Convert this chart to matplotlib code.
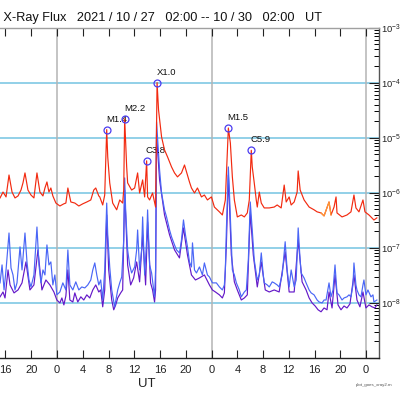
import matplotlib
matplotlib.use("Agg")
import matplotlib.pyplot as plt
import numpy as np
from matplotlib.ticker import FixedLocator, LogLocator, NullFormatter

plt.rcParams['font.family'] = ['Liberation Sans', 'DejaVu Sans']
plt.rcParams['mathtext.fontset'] = 'custom'
plt.rcParams['mathtext.rm'] = 'Liberation Sans'
plt.rcParams['mathtext.default'] = 'regular'

# ---- data: time in hours since 2021-10-27 00:00 UT, flux in W/m^2 ----
red_t = [15.16, 15.62, 16.09, 16.55, 17.02, 17.48, 17.95, 18.41, 18.72, 19.03, 19.49, 19.96, 20.42, 20.89,
         21.35, 21.82, 22.13, 22.44, 22.75, 23.05, 23.36, 23.83, 24.45, 25.07, 25.38, 25.69, 26.15, 26.77,
         27.39, 28.01, 28.63, 29.25, 29.71, 30.02, 30.49, 30.64, 31.10, 31.41, 31.72, 31.88, 32.19, 32.65,
         33.27, 33.74, 34.20, 34.36, 34.51, 34.82, 34.97, 35.59, 36.06, 36.52, 36.83, 37.30, 37.61, 37.92,
         38.07, 38.38, 38.84, 39.31, 39.54, 39.77, 40.24, 40.70, 41.17, 41.79, 42.25, 42.71, 43.33, 43.80,
         44.26, 44.57, 44.88, 45.35, 45.81, 46.43, 46.89, 47.36, 47.98, 48.44, 49.22, 49.68, 50.14, 50.61,
         50.92, 51.23, 51.54, 52.00, 52.62, 53.09, 53.55, 53.86, 54.17, 54.32, 54.63, 54.94, 55.10, 55.41,
         55.72, 56.18, 56.96, 57.73, 58.19, 58.81, 59.28, 59.59, 60.05, 60.36, 60.83, 61.29, 61.45, 61.76,
         62.37, 63.15, 63.92, 64.39, 65.00, 65.47, 66.24, 66.55, 67.02, 67.33, 67.48, 68.26, 69.03, 69.65,
         70.11, 70.42, 70.89, 71.51, 71.82, 72.44, 72.75, 73.21, 73.67]
red_f = [8.05e-7, 1.03e-6, 8.4e-7, 2.1e-6, 1.03e-6, 8.05e-7, 8.75e-7, 1.12e-6, 1.51e-6, 2.29e-6, 1.12e-6, 9.1e-7,
         8.05e-7, 2.29e-6, 1.03e-6, 8.75e-7, 1.22e-6, 1.57e-6, 1.03e-6, 1.22e-6, 8.75e-7, 6.5e-7, 5.75e-7,
         6.3e-7, 6.5e-7, 1.22e-6, 6.8e-7, 6.5e-7, 5.75e-7, 6.3e-7, 6.8e-7, 7.4e-7, 1.12e-6, 1.22e-6, 8.75e-7,
         8.4e-7, 6.0e-7, 9.1e-7, 1.4e-5, 4.47e-6, 1.51e-6, 6.5e-7, 4.9e-7, 7.4e-7, 6.5e-7, 1.12e-6, 2.2e-5,
         2.94e-6, 1.51e-6, 1.12e-6, 1.22e-6, 2.29e-6, 9.9e-7, 1.71e-6, 8.4e-7, 3.8e-6, 8.4e-7, 7.4e-7, 9.9e-7,
         5.5e-7, 1.0e-4, 3.18e-5, 1.03e-5, 5.98e-6, 4.47e-6, 2.94e-6, 2.29e-6, 1.94e-6, 2.29e-6, 3.19e-6,
         2.1e-6, 1.57e-6, 1.22e-6, 9.9e-7, 1.22e-6, 8.4e-7, 9.1e-7, 7.4e-7, 8.4e-7, 5.5e-7, 4.5e-7, 3.95e-7,
         7.4e-7, 1.5e-5, 8.0e-6, 1.94e-6, 7.4e-7, 3.64e-7, 3.95e-7, 3.64e-7, 4.3e-7, 7.4e-7, 5.9e-6, 2.94e-6,
         1.51e-6, 7.4e-7, 5.5e-7, 1.03e-6, 6.5e-7, 5.3e-7, 5.3e-7, 5.5e-7, 6.0e-7, 5.3e-7, 1.38e-6, 6.8e-7,
         8.4e-7, 6.0e-7, 6.8e-7, 1.03e-6, 2.49e-6, 1.12e-6, 7.4e-7, 5.5e-7, 4.9e-7, 4.5e-7, 4.3e-7, 3.8e-7,
         6.8e-7, 3.95e-7, 5.5e-7, 8.4e-7, 4.3e-7, 3.64e-7, 3.95e-7, 4.5e-7, 9.1e-7, 5.3e-7, 4.5e-7, 7.4e-7,
         4.5e-7, 3.95e-7, 3.64e-7, 3.2e-7, 3.5e-7]

blue_t = [15.16, 15.47, 15.78, 16.09, 16.55, 16.86, 17.17, 17.48, 17.79, 18.26, 18.57, 19.03, 19.34, 19.65,
          19.96, 20.42, 20.89, 21.20, 21.51, 21.82, 22.13, 22.44, 22.75, 23.05, 23.36, 23.67, 23.98, 24.45,
          24.91, 25.38, 25.69, 26.00, 26.46, 26.92, 27.39, 27.85, 28.32, 28.78, 29.25, 29.56, 29.87, 30.18,
          30.49, 30.79, 31.10, 31.41, 31.72, 31.88, 32.19, 32.50, 32.96, 33.43, 33.74, 34.05, 34.36, 34.51,
          34.66, 34.97, 35.28, 35.59, 36.06, 36.37, 36.52, 36.83, 37.14, 37.30, 37.61, 37.92, 38.07, 38.38,
          38.69, 39.15, 39.31, 39.46, 39.93, 40.24, 40.70, 41.01, 41.48, 41.79, 42.25, 42.56, 43.02, 43.33,
          43.64, 43.95, 44.26, 44.57, 44.88, 45.04, 45.35, 45.66, 46.12, 46.58, 46.89, 47.36, 47.67, 48.13,
          48.75, 49.22, 49.68, 49.99, 50.14, 50.30, 50.61, 50.76, 51.07, 51.23, 51.54, 51.85, 52.31, 52.62,
          53.09, 53.40, 53.71, 54.01, 54.32, 54.63, 55.10, 55.41, 55.72, 56.03, 56.18, 56.65, 56.96, 57.42,
          57.73, 58.19, 58.50, 58.97, 59.43, 59.74, 60.05, 60.36, 60.83, 61.14, 61.45, 61.75, 61.91, 62.37,
          62.68, 63.15, 63.46, 63.92, 64.39, 64.70, 65.16, 65.47, 65.78, 66.24, 66.40, 66.55, 66.86, 67.17,
          67.48, 67.79, 68.26, 68.57, 69.03, 69.34, 69.65, 69.96, 70.11, 70.42, 70.58, 70.89, 71.20, 71.51,
          71.66, 71.97, 72.28, 72.75, 73.06, 73.21, 73.67]
blue_f = [2.31e-8, 4.9e-8, 1.72e-8, 3.97e-8, 1.86e-7, 4.32e-8, 3.22e-8, 1.72e-8, 2.31e-8, 1.04e-7, 3.97e-8,
          1.86e-7, 5.55e-8, 2.61e-8, 1.95e-8, 3.22e-8, 2.39e-7, 4.9e-8, 2.31e-8, 3.97e-8, 3.22e-8, 1.13e-7,
          4.9e-8, 5.55e-8, 2.12e-8, 3.22e-8, 1.40e-8, 1.58e-8, 2.31e-8, 1.72e-8, 9.18e-8, 2.12e-8, 1.72e-8,
          2.41e-8, 1.72e-8, 1.95e-8, 1.87e-8, 2.12e-8, 2.61e-8, 3.97e-8, 5.32e-8, 3.22e-8, 2.12e-8, 2.61e-8,
          1.13e-8, 3.97e-8, 6.5e-7, 1.72e-7, 4.5e-8, 1.72e-8, 8.5e-9, 1.72e-8, 2.31e-8, 2.96e-8, 1.39e-7,
          1.86e-6, 4.88e-7, 9.18e-8, 4.9e-8, 3.5e-8, 4.5e-8, 9.18e-8, 2.11e-7, 3.97e-8, 9.18e-8, 3.64e-7,
          3.22e-8, 1.39e-7, 4.88e-7, 4.9e-8, 3.5e-8, 1.29e-8, 3.97e-8, 1.93e-5, 2.59e-6, 9.9e-7, 4.88e-7,
          3.64e-7, 2.11e-7, 1.58e-7, 1.13e-7, 9.18e-8, 8.09e-8, 1.39e-7, 3.21e-7, 1.72e-7, 1.04e-7, 5.55e-8,
          4.5e-8, 1.23e-7, 3.97e-8, 3.5e-8, 4.5e-8, 3.22e-8, 5.32e-8, 3.22e-8, 2.96e-8, 2.31e-8, 2.31e-8,
          1.95e-8, 1.72e-8, 2.12e-8, 3.97e-8, 2.11e-7, 2.94e-6, 1.12e-6, 1.23e-7, 3.97e-8, 3.22e-8, 2.31e-8,
          1.72e-8, 1.29e-8, 1.58e-8, 1.72e-8, 6.03e-8, 6.8e-7, 2.11e-7, 6.03e-8, 2.61e-8, 3.22e-8, 8.09e-8,
          3.22e-8, 2.31e-8, 2.12e-8, 1.95e-8, 2.41e-8, 2.31e-8, 2.12e-8, 1.95e-8, 3.22e-8, 1.29e-7, 3.97e-8,
          1.95e-8, 3.97e-8, 1.95e-8, 2.61e-8, 2.30e-7, 6.03e-8, 3.5e-8, 2.84e-8, 2.31e-8, 1.72e-8, 1.52e-8,
          1.40e-8, 1.13e-8, 1.04e-8, 1.0e-8, 1.13e-8, 1.13e-8, 2.31e-8, 1.72e-8, 1.29e-8, 1.72e-8, 4.9e-8,
          1.52e-8, 1.40e-8, 1.13e-8, 1.23e-8, 1.29e-8, 1.40e-8, 1.29e-8, 2.12e-8, 5.32e-8, 2.12e-8, 1.72e-8,
          1.40e-8, 1.29e-8, 2.12e-8, 2.61e-8, 1.40e-8, 1.72e-8, 1.29e-8, 1.40e-8, 1.04e-8, 1.13e-8]

purple_t = [15.16, 15.62, 15.93, 16.40, 16.71, 17.33, 17.95, 18.57, 19.18, 19.80, 20.42, 21.04, 21.66, 22.28,
            22.90, 23.52, 23.98, 24.45, 24.76, 25.07, 25.38, 25.69, 26.00, 26.46, 26.77, 27.23, 27.70, 28.16,
            28.63, 29.09, 29.56, 30.02, 30.49, 30.79, 31.10, 31.41, 31.72, 32.03, 32.50, 32.81, 33.12, 33.43,
            33.89, 34.20, 34.51, 34.97, 35.44, 35.90, 36.37, 36.83, 37.30, 37.76, 38.07, 38.53, 38.84, 39.15,
            39.31, 39.46, 39.93, 40.70, 41.48, 42.25, 43.02, 43.64, 44.26, 44.88, 45.50, 46.12, 46.89, 47.67,
            48.13, 48.60, 49.22, 49.68, 49.99, 50.30, 50.61, 51.07, 51.54, 52.00, 52.62, 53.09, 53.55, 54.01,
            54.48, 55.10, 55.72, 56.34, 56.96, 57.73, 58.50, 59.43, 60.05, 60.83, 61.45, 62.06, 62.68, 63.15,
            63.61, 64.08, 64.54, 65.00, 65.47, 65.93, 66.24, 66.71, 67.17, 67.64, 68.10, 68.57, 69.03, 69.49,
            70.11, 70.58, 71.04, 71.51, 71.97, 72.44, 72.91, 73.36, 73.67]
purple_f = [1.29e-8, 1.58e-8, 1.23e-8, 3.97e-8, 2.12e-8, 1.52e-8, 1.72e-8, 2.31e-8, 5.55e-8, 1.72e-8, 2.12e-8,
            9.18e-8, 1.72e-8, 2.61e-8, 2.12e-8, 1.58e-8, 1.13e-8, 1.0e-8, 1.23e-8, 9.2e-9, 1.34e-8, 3.97e-8,
            1.13e-8, 1.04e-8, 1.52e-8, 1.04e-8, 1.29e-8, 1.13e-8, 1.40e-8, 1.23e-8, 1.72e-8, 2.12e-8, 1.58e-8,
            1.72e-8, 8.5e-9, 1.72e-8, 3.95e-7, 3.97e-8, 1.13e-8, 7.5e-9, 9.2e-9, 1.23e-8, 1.52e-8, 1.72e-8,
            1.12e-6, 4.9e-8, 2.12e-8, 2.84e-8, 5.55e-8, 2.41e-8, 1.72e-7, 2.12e-8, 2.95e-7, 2.31e-8, 1.72e-8,
            1.04e-8, 1.72e-8, 1.12e-5, 1.71e-6, 3.95e-7, 1.72e-7, 9.18e-8, 6.56e-8, 2.30e-7, 7.45e-8, 3.22e-8,
            2.61e-8, 2.84e-8, 3.22e-8, 2.12e-8, 1.72e-8, 1.58e-8, 1.40e-8, 1.23e-8, 1.52e-8, 1.13e-7, 2.1e-6,
            7.45e-8, 2.41e-8, 1.72e-8, 1.13e-8, 1.23e-8, 1.40e-8, 4.49e-7, 7.45e-8, 1.95e-8, 5.55e-8, 1.72e-8,
            1.58e-8, 1.72e-8, 1.58e-8, 8.43e-8, 1.58e-8, 1.58e-8, 1.39e-7, 2.41e-8, 1.72e-8, 1.23e-8, 1.0e-8,
            8.8e-9, 7.5e-9, 6.9e-9, 8.1e-9, 7.5e-9, 1.58e-8, 8.1e-9, 3.22e-8, 9.2e-9, 7.5e-9, 8.8e-9, 8.1e-9,
            9.6e-9, 3.22e-8, 1.13e-8, 8.5e-9, 1.58e-8, 8.1e-9, 9.2e-9, 8.5e-9, 8.1e-9, 9.2e-9]

flare_labels = ['M1.4', 'M2.2', 'C3.8', 'X1.0', 'M1.5', 'C5.9']
flare_t = [31.72, 34.51, 37.92, 39.54, 50.61, 54.17]
flare_f = [1.4e-5, 2.2e-5, 3.8e-6, 1.0e-4, 1.5e-5, 5.9e-6]

orange_window = (64.6, 66.7)
t_start, t_end = 2.0, 74.0
tick_hours = list(range(4, 76, 4))
first_shown_tick = 16          # earlier ticks fall outside the cropped picture
day_lines = [24, 48, 72]
class_levels = [1e-8, 1e-7, 1e-6, 1e-5, 1e-4]
title = "GOES X-Ray Flux   2021 / 10 / 27   02:00 -- 10 / 30   02:00   UT"

# ---- figure ----
fig = plt.figure(figsize=(4.0, 3.93), dpi=100)
ax = fig.add_axes([-84.7 / 400, 35 / 393, 463.7 / 400, 330.5 / 393])
ax.set_yscale('log')
ax.set_xlim(t_start, t_end)
ax.set_ylim(1e-9, 1e-3)

for lv in class_levels:
    ax.axhline(lv, color='#74c3e1', lw=1.1, zorder=1)
for d in day_lines:
    ax.axvline(d, color='#b4b4b4', lw=1.1, zorder=1)

ax.plot(purple_t, purple_f, color='#6418c8', lw=0.85, zorder=2)
ax.plot(blue_t, blue_f, color='#4a66f6', lw=0.85, zorder=3)
ax.plot(red_t, red_f, color='#f22a10', lw=0.85, zorder=4)
rt = np.array(red_t); rf = np.array(red_f)
m = (rt >= orange_window[0]) & (rt <= orange_window[1])
ax.plot(rt[m], rf[m], color='#ff9a34', lw=0.85, zorder=5)

ax.plot(flare_t, flare_f, 'o', ms=5, mfc='none', mec='#4b3cf0', mew=0.9, zorder=6)
for lab, t, f in zip(flare_labels, flare_t, flare_f):
    ax.annotate(lab, (t, f), xytext=(-0.5, 7.5), textcoords='offset points',
                ha='left', va='center', fontsize=6.8, color='#111111', zorder=3.5)

# x axis
ax.xaxis.set_major_locator(FixedLocator(tick_hours))
ax.set_xticklabels([str(h % 24) if h >= first_shown_tick else '' for h in tick_hours])
ax.tick_params(axis='x', which='both', direction='in', top=True, bottom=True,
               length=6, width=0.8, labelsize=8, pad=5, colors='#222222')
ax.set_xlabel('UT', fontsize=9.5, labelpad=2, color='#222222')

# y axis on the right
ax.yaxis.tick_right()
ax.yaxis.set_major_locator(FixedLocator([1e-9, 1e-8, 1e-7, 1e-6, 1e-5, 1e-4, 1e-3]))
ax.set_yticklabels(['', r'10$^{-8}$', r'10$^{-7}$', r'10$^{-6}$', r'10$^{-5}$', r'10$^{-4}$', r'10$^{-3}$'])
ax.yaxis.set_minor_locator(LogLocator(base=10, subs=np.arange(2, 10), numticks=20))
ax.yaxis.set_minor_formatter(NullFormatter())
ax.tick_params(axis='y', which='major', direction='in', left=False, right=True,
               length=7, width=0.8, labelsize=6.8, pad=1.5, colors='#222222')
ax.tick_params(axis='y', which='minor', direction='in', left=False, right=True,
               length=3.5, width=0.7)

ax.spines['top'].set_color('#a0a0a0')
ax.spines['right'].set_color('#555555')
ax.spines['bottom'].set_color('#222222')
for s in ax.spines.values():
    s.set_linewidth(1.0)

fig.text(322 / 400, (393 - 21.5) / 393, title, fontsize=9.2, color='#111111',
         ha='right', va='baseline')
fig.text(0.935, 0.017, 'plot_goes_xray2.m', fontsize=3.2, color='#555555', ha='center')

fig.savefig('out.png', dpi=100)
